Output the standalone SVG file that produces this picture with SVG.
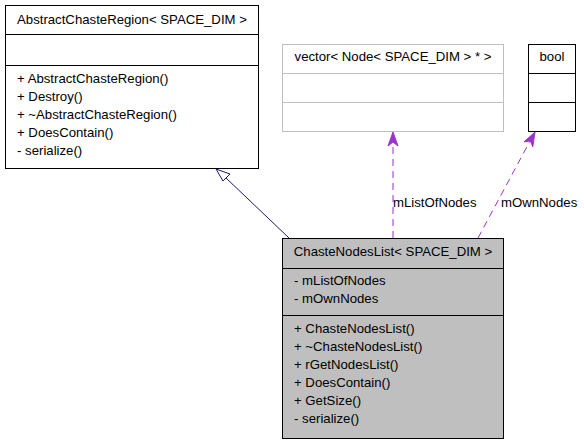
<svg xmlns="http://www.w3.org/2000/svg" width="584" height="445" viewBox="0 0 584 445">
<style>
text{font-family:"Liberation Sans",Arial,sans-serif;font-size:13.2px;fill:#000}
.box{stroke:#000;stroke-width:1}
.grey{fill:none;stroke:#bfbfbf;stroke-width:1}
.mid{text-anchor:middle}
.inh{stroke:#191970;stroke-width:1;fill:none}
.use{stroke:#9a32cd;stroke-width:1;fill:none;stroke-dasharray:7,5}
.head{stroke:#9a32cd;stroke-width:1;fill:#9a32cd}
</style>
<rect width="584" height="445" fill="#fff"/>
<g id="connectors">
<line class="inh" x1="289" y1="238" x2="226" y2="178"/>
<polygon points="216,169 230,174 223,181" fill="#fff" stroke="#191970"/>
<line class="use" x1="393" y1="238" x2="393" y2="142"/>
<polygon class="head" points="393,132 398,146 393,142 388,146"/>
<line class="use" x1="478" y1="238" x2="530" y2="141"/>
<polygon class="head" points="535,132 532.8,146.7 530.3,140.8 524,141.9"/>
<text x="393" y="207">mListOfNodes</text>
<text x="501" y="207">mOwnNodes</text>
</g>
<g id="AbstractChasteRegion">
<rect class="box" x="5.5" y="5.5" width="253" height="163" fill="#fff"/>
<line class="box" x1="5.5" y1="34.5" x2="258.5" y2="34.5"/>
<line class="box" x1="5.5" y1="65.5" x2="258.5" y2="65.5"/>
<text x="17" y="24">AbstractChasteRegion&lt; SPACE_DIM &gt;</text>
<text x="17" y="83">+ AbstractChasteRegion()</text>
<text x="17" y="101">+ Destroy()</text>
<text x="17" y="119">+ ~AbstractChasteRegion()</text>
<text x="17" y="137">+ DoesContain()</text>
<text x="17" y="155">- serialize()</text>
</g>
<g id="vector">
<rect class="grey" x="282.5" y="44.5" width="221" height="87" fill="#fff"/>
<line class="grey" x1="282.5" y1="73.5" x2="503.5" y2="73.5"/>
<line class="grey" x1="282.5" y1="102.5" x2="503.5" y2="102.5"/>
<text class="mid" x="393" y="61">vector&lt; Node&lt; SPACE_DIM &gt; * &gt;</text>
</g>
<g id="bool">
<rect class="box" x="528.5" y="44.5" width="47" height="87" fill="#fff"/>
<line class="box" x1="528.5" y1="73.5" x2="575.5" y2="73.5"/>
<line class="box" x1="528.5" y1="102.5" x2="575.5" y2="102.5"/>
<text class="mid" x="552" y="61">bool</text>
</g>
<g id="ChasteNodesList">
<rect class="box" x="282.5" y="238.5" width="221" height="200" fill="#bfbfbf"/>
<line class="box" x1="282.5" y1="268.5" x2="503.5" y2="268.5"/>
<line class="box" x1="282.5" y1="315.5" x2="503.5" y2="315.5"/>
<text class="mid" x="393" y="256">ChasteNodesList&lt; SPACE_DIM &gt;</text>
<text x="294" y="285">- mListOfNodes</text>
<text x="294" y="303">- mOwnNodes</text>
<text x="294" y="333">+ ChasteNodesList()</text>
<text x="294" y="351">+ ~ChasteNodesList()</text>
<text x="294" y="369">+ rGetNodesList()</text>
<text x="294" y="387">+ DoesContain()</text>
<text x="294" y="405">+ GetSize()</text>
<text x="294" y="423">- serialize()</text>
</g>
</svg>
